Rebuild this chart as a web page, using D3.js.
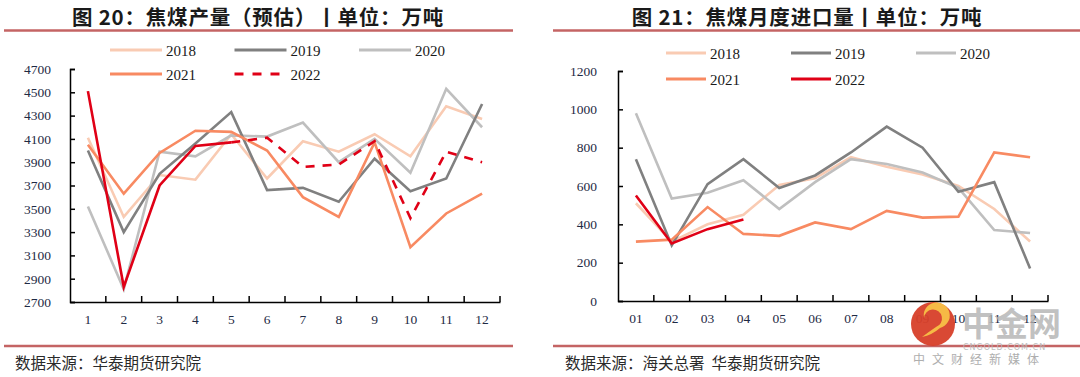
<!DOCTYPE html>
<html><head><meta charset="utf-8">
<script src="https://cdn.jsdelivr.net/npm/d3@7"></script>
<style>
body{margin:0;background:#fff;}
svg{display:block;}
</style></head>
<body>
<svg id="c" width="1080" height="377"></svg>
<script>
// ---------- data ----------
const monthsL = ["1","2","3","4","5","6","7","8","9","10","11","12"];
const prod2018 = [4110,3430,3790,3750,4140,3760,4080,3990,4140,3950,4380,4270];
const prod2019 = [4000,3300,3800,4060,4330,3660,3680,3560,3930,3650,3760,4400];
const prod2020 = [3520,2810,3990,3950,4130,4120,4240,3900,4100,3810,4530,4200];
const prod2021 = [4050,3630,3980,4170,4160,4000,3600,3430,4070,3170,3460,3630];
const prod2022 = [4510,2830,3700,4040,4070,4110,3860,3880,4080,3420,3990,3900];
const prod2022ActualCount = 5; // solid up to month 5, forecast afterwards dashed
const yTicksL = [2700,2900,3100,3300,3500,3700,3900,4100,4300,4500,4700];

const monthsR = ["01","02","03","04","05","06","07","08","09","10","11","12"];
const imp2018 = [510,310,400,450,605,640,750,700,660,600,480,310];
const imp2019 = [740,290,610,740,590,655,775,910,800,570,620,170];
const imp2020 = [980,535,565,630,480,620,740,715,670,590,370,355];
const imp2021 = [310,320,490,350,340,410,375,470,435,440,775,750];
const imp2022 = [550,300,375,425];
const yTicksR = [0,200,400,600,800,1000,1200];

const years = ["2018","2019","2020","2021","2022"];
const colors = {"2018":"#F9CBB3","2019":"#808080","2020":"#BFBFBF","2021":"#F88A62","2022":"#E00016"};

const svg = d3.select("#c");
const serif = "'Liberation Serif','Times New Roman',serif";
const cjk = "'Noto Sans CJK SC','Noto Sans',sans-serif";
const ruleColor = "#C46464";
const labelColor = "#1E2A44";

function panel(opt){
  const g = svg.append("g");
  // title
  g.append("text").attr("x",opt.titleX).attr("y",25).attr("text-anchor","middle")
    .attr("font-family",cjk).attr("font-weight","bold").attr("font-size",20.5)
    .attr("letter-spacing",0.8).attr("fill","#1a1a1a")
    .text(opt.title);
  g.append("line").attr("x1",opt.ruleX1).attr("x2",opt.ruleX2).attr("y1",30.5).attr("y2",30.5)
    .attr("stroke",ruleColor).attr("stroke-width",2.5);
  g.append("line").attr("x1",opt.ruleX1).attr("x2",opt.ruleX2).attr("y1",346).attr("y2",346)
    .attr("stroke",ruleColor).attr("stroke-width",2.5);
  g.append("text").attr("x",opt.srcX).attr("y",369).attr("font-family",cjk).attr("font-size",15.5)
    .attr("fill","#2a2a2a").attr("xml:space","preserve").text(opt.source);

  const x = d3.scaleBand().domain(opt.months).range([opt.x0,opt.x1]);
  const y = d3.scaleLinear().domain(opt.yDomain).range([opt.yBottom,opt.yTop]);

  // axes
  const yAxis = d3.axisLeft(y).tickValues(opt.yTicks).tickFormat(d3.format("d"))
    .tickSizeInner(-5).tickSizeOuter(-5).tickPadding(opt.yPad);
  const ya = g.append("g").attr("transform",`translate(${opt.x0},0)`).call(yAxis);
  ya.select(".domain").attr("stroke","#000").attr("stroke-width",1.5);
  ya.selectAll(".tick line").attr("stroke","#000").attr("stroke-width",1.5);
  ya.selectAll("text").attr("font-family",serif).attr("font-size",13.5).attr("fill",labelColor);

  const xAxis = d3.axisBottom(x).tickSize(0).tickPadding(opt.xPad);
  const xa = g.append("g").attr("transform",`translate(0,${opt.yBottom})`).call(xAxis);
  xa.select(".domain").attr("stroke","#000").attr("stroke-width",1.5);
  xa.selectAll("text").attr("font-family",serif).attr("font-size",13.5).attr("fill",labelColor);
  // band-boundary ticks pointing up
  const bounds = opt.months.map(m=>x(m)).concat([opt.x1]).slice(1);
  g.append("g").selectAll("line").data(bounds).join("line")
    .attr("x1",d=>d).attr("x2",d=>d).attr("y1",opt.yBottom).attr("y2",opt.yBottom-6)
    .attr("stroke","#000").attr("stroke-width",1.5);

  const line = d3.line().x((d,i)=>x(opt.months[i])+x.bandwidth()/2).y(d=>y(d));
  const line2 = d3.line().x(d=>x(opt.months[d[0]])+x.bandwidth()/2).y(d=>y(d[1]));
  opt.series.forEach(s=>{
    if(s.split){
      const pts = s.data.map((v,i)=>[i,v]);
      g.append("path").attr("d",line2(pts.slice(0,s.split))).attr("fill","none")
        .attr("stroke",colors[s.year]).attr("stroke-width",2.6).attr("stroke-linejoin","miter");
      g.append("path").attr("d",line2(pts.slice(s.split-1))).attr("fill","none")
        .attr("stroke",colors[s.year]).attr("stroke-width",2.6).attr("stroke-dasharray","9,8");
    } else {
      g.append("path").attr("d",line(s.data)).attr("fill","none")
        .attr("stroke",colors[s.year]).attr("stroke-width",2.6).attr("stroke-linejoin","miter");
    }
  });

  // legend
  const lg = g.append("g");
  years.forEach((yr,i)=>{
    const col = i%3, row = Math.floor(i/3);
    const lx = opt.legX + col*opt.legDX, ly = opt.legY + row*opt.legDY;
    lg.append("line").attr("x1",lx).attr("x2",lx+opt.legLen).attr("y1",ly).attr("y2",ly)
      .attr("stroke",colors[yr]).attr("stroke-width",3.2)
      .attr("stroke-dasharray", (yr==="2022" && opt.dashLegend) ? "9,9" : null);
    lg.append("text").attr("x",lx+opt.legLen+4).attr("y",ly+5.5).attr("font-family",serif)
      .attr("font-size",15).attr("fill","#1a1a1a").text(yr);
  });
}

panel({
  title:"图 20：焦煤产量（预估）丨单位：万吨", titleX:258, ruleX1:4, ruleX2:513, srcX:15,
  source:"数据来源：华泰期货研究院",
  months:monthsL, x0:70, x1:500, yDomain:[2700,4700], yBottom:302, yTop:69, yTicks:yTicksL, yPad:19, xPad:12,
  series:[{year:"2018",data:prod2018},{year:"2020",data:prod2020},{year:"2019",data:prod2019},
          {year:"2021",data:prod2021},{year:"2022",data:prod2022,split:prod2022ActualCount}],
  legX:110, legY:50, legDX:124.5, legDY:24, legLen:52, dashLegend:true
});

panel({
  title:"图 21：焦煤月度进口量丨单位：万吨", titleX:807, ruleX1:553, ruleX2:1080, srcX:565,
  source:"数据来源：海关总署  华泰期货研究院",
  months:monthsR, x0:618, x1:1048, yDomain:[0,1200], yBottom:301, yTop:71, yTicks:yTicksR, yPad:21, xPad:12,
  series:[{year:"2018",data:imp2018},{year:"2020",data:imp2020},{year:"2019",data:imp2019},
          {year:"2021",data:imp2021},{year:"2022",data:imp2022}],
  legX:666, legY:53, legDX:125, legDY:26, legLen:40, dashLegend:false
});

// watermark
const wm = svg.append("g").attr("opacity",0.95);
wm.append("circle").attr("cx",933).attr("cy",324).attr("r",22).attr("fill","#D8402A");
wm.append("path").attr("d","M924,318 a9,9 0 1,1 12,9 q-6,4 -14,10 q10,-2 18,-9 a13,13 0 1,0 -16,-10 z")
  .attr("fill","#F6B73C");
wm.append("text").attr("x",962).attr("y",336).attr("font-family",cjk).attr("font-weight","bold")
  .attr("font-size",33).attr("fill","#B3B3B3").attr("fill-opacity",0.85).text("中金网");
wm.append("text").attr("x",963).attr("y",350).attr("font-family","'DejaVu Sans',sans-serif")
  .attr("font-size",8).attr("fill","#bbb").attr("letter-spacing",1).text("CNGOLD.COM.CN");
wm.append("text").attr("x",913).attr("y",364).attr("font-family",cjk)
  .attr("font-size",12).attr("fill","#aaa").attr("letter-spacing",7).text("中文财经新媒体");
</script>
</body></html>
